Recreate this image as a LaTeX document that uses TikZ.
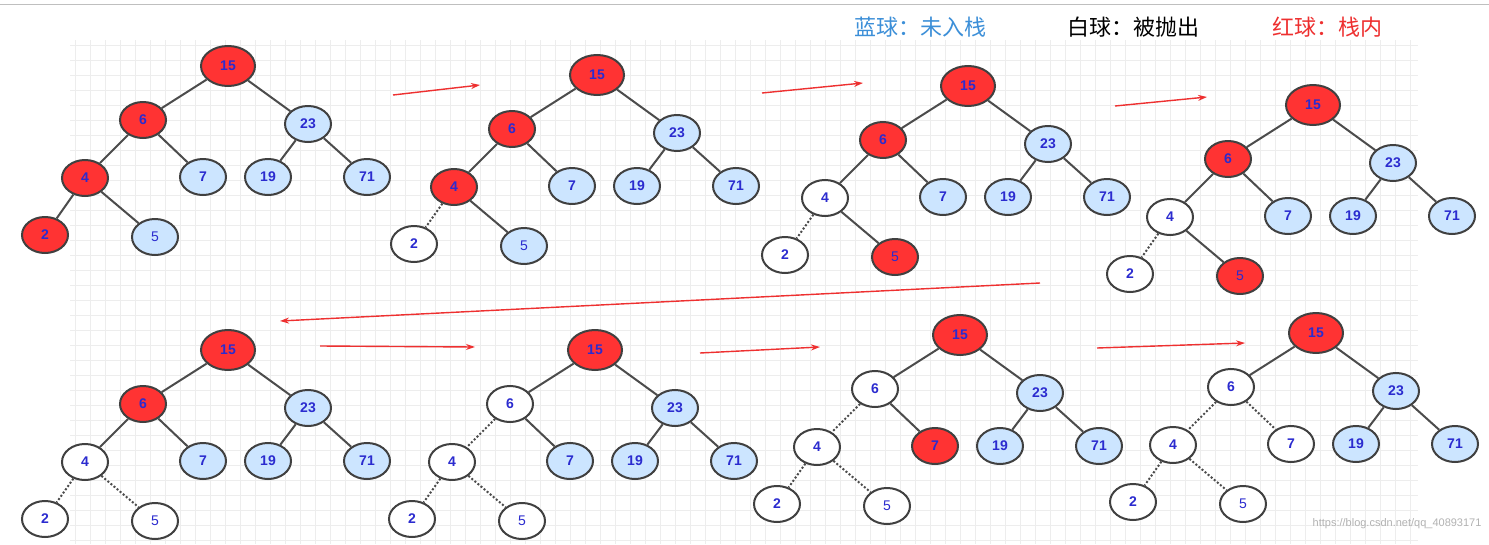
\documentclass[tikz,border=0pt]{standalone}
\usepackage{fontspec}
\setmainfont{Liberation Sans}
\newfontfamily\cjk{Noto Sans CJK SC}
\usetikzlibrary{shapes.geometric}
\usetikzlibrary{arrows.meta}
\definecolor{ballred}{HTML}{FF3333}
\definecolor{ballblue}{HTML}{CCE5FF}
\definecolor{numblue}{HTML}{2B2BCF}
\definecolor{legblue}{HTML}{3C8FD8}
\definecolor{arrred}{HTML}{EE3030}
\tikzset{
  ball/.style={draw=black!75, line width=2pt, ellipse, minimum width=46pt, minimum height=36pt,
    inner sep=0pt, text=numblue, font=\fontsize{14}{16}\selectfont\bfseries},
  R/.style={fill=ballred}, B/.style={fill=ballblue}, W/.style={fill=white},
  link/.style={draw=black!70, line width=2pt},
  gone/.style={dotted},
  move/.style={draw=arrred, line width=1.4pt, -{Stealth[length=9pt,width=6pt]}},
  n15/.style={}, n6/.style={}, n23/.style={}, n4/.style={}, n7/.style={},
  n19/.style={}, n71/.style={}, n2/.style={}, n5/.style={},
  e64/.style={}, e67/.style={}, e42/.style={}, e45/.style={}
}
\newcommand{\bstree}[1]{%
  \node[ball,n15,minimum width=54pt,minimum height=40pt] (#1a) at (0,0) {15};
  \node[ball,n6] (#1b) at (-85,54) {6};
  \node[ball,n23] (#1c) at (80,58) {23};
  \node[ball,n4] (#1d) at (-143,112) {4};
  \node[ball,n7] (#1e) at (-25,111) {7};
  \node[ball,n19] (#1f) at (40,111) {19};
  \node[ball,n71] (#1g) at (139,111) {71};
  \node[ball,n2] (#1h) at (-183,169) {2};
  \node[ball,n5,font=\fontsize{14}{16}\selectfont] (#1i) at (-73,171) {5};
  \draw[link] (#1a) -- (#1b);
  \draw[link] (#1a) -- (#1c);
  \draw[link] (#1c) -- (#1f);
  \draw[link] (#1c) -- (#1g);
  \draw[link,e64] (#1b) -- (#1d);
  \draw[link,e67] (#1b) -- (#1e);
  \draw[link,e42] (#1d) -- (#1h);
  \draw[link,e45] (#1d) -- (#1i);
}
\begin{document}
\begin{tikzpicture}[x=1pt,y=-1pt]
\useasboundingbox (0,0) rectangle (1489,544);
% paper
\fill[white] (0,0) rectangle (1489,544);
\draw[black!25] (0,4) -- (1489,4);
\draw[black!7, step=15pt] (70,40) grid (1418,544);
% legend
\node[text=legblue, font=\cjk\fontsize{22}{26}\selectfont] (lblue) at (920,27) {蓝球：未入栈};
\node[text=black, font=\cjk\fontsize{22}{26}\selectfont] (lwhite) at (1133,27) {白球：被抛出};
\node[text=arrred, font=\cjk\fontsize{22}{26}\selectfont] (lred) at (1327,27) {红球：栈内};

% row 1
\begin{scope}[shift={(228,66)}, n15/.style=R, n6/.style=R, n23/.style=B, n4/.style=R,
  n7/.style=B, n19/.style=B, n71/.style=B, n2/.style=R, n5/.style=B]
  \bstree{p}
\end{scope}
\begin{scope}[shift={(597,75)}, n15/.style=R, n6/.style=R, n23/.style=B, n4/.style=R,
  n7/.style=B, n19/.style=B, n71/.style=B, n2/.style=W, n5/.style=B, e42/.style=gone]
  \bstree{q}
\end{scope}
\begin{scope}[shift={(968,86)}, n15/.style=R, n6/.style=R, n23/.style=B, n4/.style=W,
  n7/.style=B, n19/.style=B, n71/.style=B, n2/.style=W, n5/.style=R, e42/.style=gone]
  \bstree{r}
\end{scope}
\begin{scope}[shift={(1313,105)}, n15/.style=R, n6/.style=R, n23/.style=B, n4/.style=W,
  n7/.style=B, n19/.style=B, n71/.style=B, n2/.style=W, n5/.style=R, e42/.style=gone]
  \bstree{s}
\end{scope}

% row 2
\begin{scope}[shift={(228,350)}, n15/.style=R, n6/.style=R, n23/.style=B, n4/.style=W,
  n7/.style=B, n19/.style=B, n71/.style=B, n2/.style=W, n5/.style=W,
  e42/.style=gone, e45/.style=gone]
  \bstree{t}
\end{scope}
\begin{scope}[shift={(595,350)}, n15/.style=R, n6/.style=W, n23/.style=B, n4/.style=W,
  n7/.style=B, n19/.style=B, n71/.style=B, n2/.style=W, n5/.style=W,
  e64/.style=gone, e42/.style=gone, e45/.style=gone]
  \bstree{u}
\end{scope}
\begin{scope}[shift={(960,335)}, n15/.style=R, n6/.style=W, n23/.style=B, n4/.style=W,
  n7/.style=R, n19/.style=B, n71/.style=B, n2/.style=W, n5/.style=W,
  e64/.style=gone, e42/.style=gone, e45/.style=gone]
  \bstree{v}
\end{scope}
\begin{scope}[shift={(1316,333)}, n15/.style=R, n6/.style=W, n23/.style=B, n4/.style=W,
  n7/.style=W, n19/.style=B, n71/.style=B, n2/.style=W, n5/.style=W,
  e64/.style=gone, e67/.style=gone, e42/.style=gone, e45/.style=gone]
  \bstree{w}
\end{scope}

% steps
\coordinate (a1) at (393,95);   \coordinate (b1) at (480,85);
\coordinate (a2) at (762,93);   \coordinate (b2) at (863,83);
\coordinate (a3) at (1115,106); \coordinate (b3) at (1207,97);
\coordinate (a4) at (1040,283); \coordinate (b4) at (280,321);
\coordinate (a5) at (320,346);  \coordinate (b5) at (475,347);
\coordinate (a6) at (700,353);  \coordinate (b6) at (820,347);
\coordinate (a7) at (1097,348); \coordinate (b7) at (1245,343);
\foreach \i in {1,...,7}
  \draw[move] (a\i) -- (b\i);

\node[text=black!30, font=\fontsize{11}{13}\selectfont, anchor=east] (mark) at (1485,524) {https://blog.csdn.net/qq\_40893171};
\end{tikzpicture}
\end{document}
